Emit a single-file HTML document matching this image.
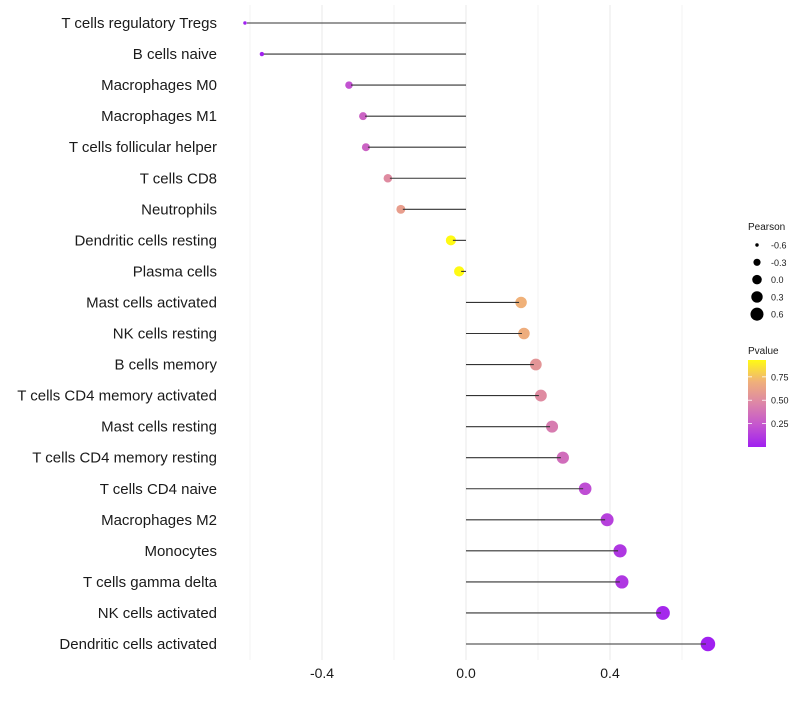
<!DOCTYPE html>
<html><head><meta charset="utf-8"><style>
body{margin:0;background:#fff;font-family:"Liberation Sans",sans-serif}
svg text{font-family:"Liberation Sans",sans-serif}
</style></head><body>
<svg id="c" width="800" height="700"></svg>
<script>
const categories=["T cells regulatory  Tregs","B cells naive","Macrophages M0","Macrophages M1","T cells follicular helper","T cells CD8","Neutrophils","Dendritic cells resting","Plasma cells","Mast cells activated","NK cells resting","B cells memory","T cells CD4 memory activated","Mast cells resting","T cells CD4 memory resting","T cells CD4 naive","Macrophages M2","Monocytes","T cells gamma delta","NK cells activated","Dendritic cells activated"];
const pearson=[-0.614,-0.567,-0.325,-0.286,-0.278,-0.217,-0.181,-0.042,-0.019,0.153,0.161,0.194,0.208,0.239,0.269,0.331,0.392,0.428,0.433,0.547,0.672];
const pvalues=[0.003,0.01,0.22,0.3,0.3,0.5,0.6,0.93,0.93,0.7,0.68,0.55,0.5,0.42,0.35,0.2,0.14,0.1,0.1,0.03,0.001];
const xTicks=[-0.4,0.0,0.4];
const xTickLabels=["-0.4","0.0","0.4"];
const sizeLegendVals=[-0.6,-0.3,0.0,0.3,0.6];
const sizeLegendLabels=["-0.6","-0.3","0.0","0.3","0.6"];
const colorLegendVals=[0.25,0.5,0.75];
const colorLegendLabels=["0.25","0.50","0.75"];

const NS="http://www.w3.org/2000/svg";
const svg=document.getElementById('c');
function mk(t,a,p){const e=document.createElementNS(NS,t);for(const k in a)e.setAttribute(k,a[k]);(p||svg).appendChild(e);return e;}
const X=v=>466+v*360;
const Y=i=>23+i*31.05;
const R=v=>Math.sqrt(Math.max(2,3+50*(v+0.614)/1.286));
const stops=[[160,32,240],[196,85,207],[220,133,168],[240,176,122],[255,250,20]];
function hex(c){return c.map(v=>Math.round(v).toString(16).padStart(2,'0')).join('');}
function col(p){let t=Math.max(0,Math.min(1,p/0.93))*4;const i=Math.min(3,Math.floor(t));const s=t-i;
 return '#'+hex(stops[i].map((v,k)=>v+(stops[i+1][k]-v)*s));}
[-0.6,-0.4,-0.2,0,0.2,0.4,0.6].forEach(v=>{const g=mk('line',{x1:X(v),x2:X(v),y1:5,y2:660,stroke:'#ebebeb','stroke-width':Math.round(Math.abs(v*10))%4===0?1.1:0.6});
});
categories.forEach((c,i)=>{
 const t=mk('text',{x:217,y:Y(i)+5,'text-anchor':'end','font-size':15,fill:'#1a1a1a'});t.textContent=c;
 
 const sgn=pearson[i]<0?-1:1;
 const d=mk('circle',{cx:X(pearson[i]),cy:Y(i),r:R(pearson[i]),fill:col(pvalues[i])});
 
 const l=mk('line',{x1:X(0),x2:X(pearson[i])-sgn*2,y1:Y(i),y2:Y(i),stroke:'#333','stroke-width':1.1});
 
});
xTicks.forEach((v,i)=>{const t=mk('text',{x:X(v),y:678,'text-anchor':'middle','font-size':14,fill:'#1a1a1a'});t.textContent=xTickLabels[i];
});
let t=mk('text',{x:748,y:230,'font-size':10,fill:'#1a1a1a'});t.textContent='Pearson';

sizeLegendVals.forEach((v,i)=>{const y=245+i*17.3;const c=mk('circle',{cx:757,cy:y,r:R(v)*0.92,fill:'#000'});

const s=mk('text',{x:771,y:y+3.5,'font-size':9,fill:'#1a1a1a'});s.textContent=sizeLegendLabels[i];
});
t=mk('text',{x:748,y:354,'font-size':10,fill:'#1a1a1a'});t.textContent='Pvalue';

const defs=mk('defs',{});const lg=mk('linearGradient',{id:'g',x1:0,y1:1,x2:0,y2:0},defs);
[0,0.25,0.5,0.75,1].forEach(s=>mk('stop',{offset:s,'stop-color':col(s*0.93)},lg));
const bar=mk('rect',{x:748,y:360,width:18,height:87,fill:'url(#g)'});

colorLegendVals.forEach((v,i)=>{const y=447-v/0.93*87;
mk('line',{x1:748,x2:752,y1:y,y2:y,stroke:'#fff','stroke-width':0.8});mk('line',{x1:762,x2:766,y1:y,y2:y,stroke:'#fff','stroke-width':0.8});
const s=mk('text',{x:771,y:y+3.5,'font-size':9,fill:'#1a1a1a'});s.textContent=colorLegendLabels[i];
});
</script>
</body></html>
